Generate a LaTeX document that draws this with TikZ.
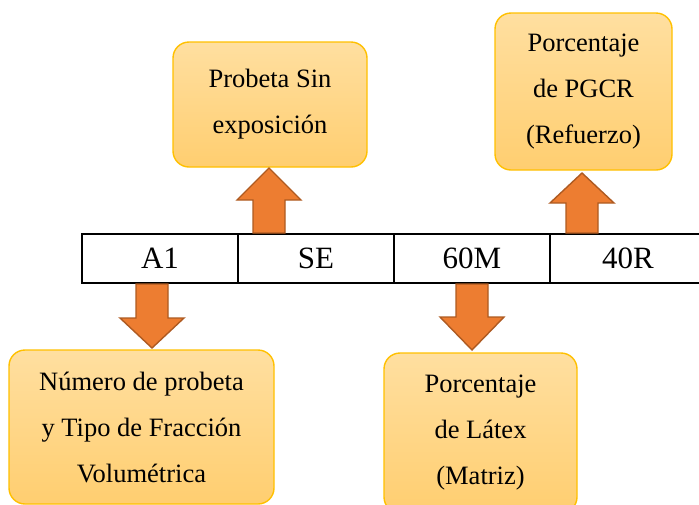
\documentclass[tikz,border=0pt]{standalone}
\usepackage{fontspec}
\setmainfont{Liberation Serif}
\usetikzlibrary{positioning}
\definecolor{NoteTop}{RGB}{255,223,160}
\definecolor{NoteBottom}{RGB}{255,206,112}
\definecolor{NoteGold}{RGB}{255,192,0}
\definecolor{ArrOrange}{RGB}{237,125,49}
\definecolor{ArrEdge}{RGB}{174,90,33}
\tikzset{
  cellbox/.style={draw=black,line width=1.8pt,minimum width=156pt,minimum height=49pt,inner sep=0pt,outer sep=0pt,font=\fontsize{31}{36}\selectfont},
  notebox/.style={draw=NoteGold,line width=1.4pt,top color=NoteTop,bottom color=NoteBottom,rounded corners=16pt,align=center,inner sep=0pt,font=\fontsize{26.5}{46}\selectfont},
  fatarr/.style={draw=ArrEdge,fill=ArrOrange,line width=1.4pt,line join=miter},
}
% block arrow: x, tip y, neck y, end y
\newcommand{\fatarrow}[4]{%
  \draw[fatarr] (#1-16,#4) -- (#1-16,#3) -- (#1-32,#3) -- (#1,#2)
    -- (#1+32,#3) -- (#1+16,#3) -- (#1+16,#4) -- cycle;}

\begin{document}
\begin{tikzpicture}[x=1pt,y=-1pt]
  \useasboundingbox (0,0) rectangle (699,504);
  % code cells
  \node[cellbox] (a1) at (160,258.5) {A1};
  \node[cellbox,right=0pt of a1] (se) {SE};
  \node[cellbox,right=0pt of se] (m60) {60M};
  \node[cellbox,right=0pt of m60] (r40) {40R};
  % notes
  \node[notebox,minimum width=194pt,minimum height=125pt] (probeta) at (270,104.5) {Probeta Sin\\exposición};
  \node[notebox,minimum width=177pt,minimum height=157pt] (pgcr) at (583.5,91.5) {Porcentaje\\de PGCR\\(Refuerzo)};
  \node[notebox,minimum width=265pt,minimum height=154pt] (numero) at (141.5,427) {Número de probeta\\y Tipo de Fracción\\Volumétrica};
  \node[notebox,minimum width=193pt,minimum height=160pt] (latex) at (480.5,433) {Porcentaje\\de Látex\\(Matriz)};
  % arrows
  \fatarrow{269}{168}{200}{233}
  \fatarrow{582}{173}{203}{233}
  \fatarrow{152}{348}{318}{284}
  \fatarrow{472}{350}{317}{284}
\end{tikzpicture}
\end{document}
